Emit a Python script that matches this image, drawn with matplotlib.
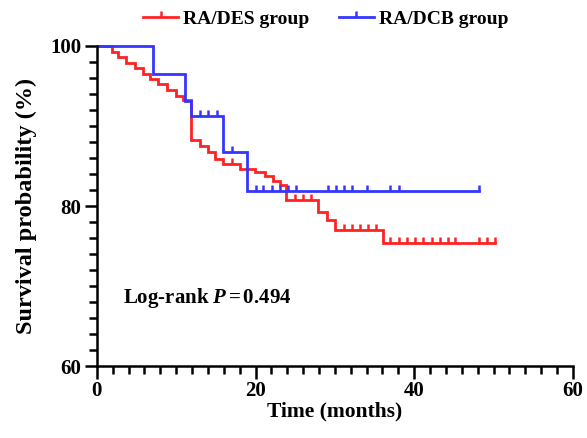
import numpy as np
import matplotlib
matplotlib.use("Agg")
import matplotlib.pyplot as plt
from matplotlib.lines import Line2D

plt.rcParams['font.family'] = ['Liberation Serif', 'DejaVu Serif']
plt.rcParams['font.weight'] = 'bold'
plt.rcParams['mathtext.fontset'] = 'custom'
plt.rcParams['mathtext.rm'] = 'Liberation Serif:bold'
plt.rcParams['mathtext.it'] = 'Liberation Serif:bold:italic'

# RA/DES group (step survival, value holds after each time)
des_t = [0, 1.85, 2.7, 3.7, 4.8, 5.8, 6.7, 7.7, 8.8, 10.0, 10.9, 11.9, 13.0, 14.0,
         14.9, 15.9, 18.0, 19.9, 21.2, 22.2, 23.1, 23.9, 27.9, 29.0, 30.0, 36.1, 50.2]
des_s = [100, 99.3, 98.6, 97.9, 97.2, 96.5, 95.9, 95.2, 94.5, 93.8, 93.2, 88.2, 87.5, 86.7,
         85.9, 85.2, 84.6, 84.2, 83.7, 83.1, 82.6, 80.8, 79.3, 78.3, 77.0, 75.4, 75.4]
des_cens = [17.0, 25.0, 26.0, 27.0, 31.1, 32.1, 33.2, 34.2, 35.2, 37.0, 38.1, 39.1,
            40.1, 41.1, 42.2, 43.2, 44.2, 45.1, 48.2, 49.2, 50.2]

# RA/DCB group
dcb_t = [0, 7.1, 11.1, 11.9, 15.9, 18.95, 48.2]
dcb_s = [100, 96.5, 93.1, 91.2, 86.7, 81.9, 81.9]
dcb_cens = [13.0, 14.0, 15.1, 17.0, 20.0, 21.0, 22.1, 23.1, 24.1, 25.1, 29.1, 30.1,
            31.1, 32.2, 34.1, 37.0, 38.1, 48.2]

red = '#FF2222'
blue = '#3535FF'
tick_mark = [(0, 0), (0, 1)]


def surv_at(t, s, x):
    idx = np.searchsorted(t, x, side='right') - 1
    return np.asarray(s)[idx]


fig = plt.figure(figsize=(5.87, 4.38), dpi=100)
ax = fig.add_axes([0.165, 0.164, 0.811, 0.731])

for t, s, cens, c in [(des_t, des_s, des_cens, red), (dcb_t, dcb_s, dcb_cens, blue)]:
    ax.step(t, s, where='post', color=c, lw=2.0, solid_joinstyle='miter', clip_on=False)
    ax.plot(cens, surv_at(t, s, cens), ls='none', marker=tick_mark, ms=8,
            mew=1.8, color=c, clip_on=False)

ax.set_xlim(0, 60)
ax.set_ylim(60, 100)
ax.set_xticks([0, 20, 40, 60])
ax.set_yticks([60, 80, 100])
ax.set_xticks(np.arange(0, 61, 2), minor=True)
ax.set_yticks(np.arange(60, 101, 2), minor=True)
for sp in ['top', 'right']:
    ax.spines[sp].set_visible(False)
for sp in ['left', 'bottom']:
    ax.spines[sp].set_linewidth(1.8)
ax.tick_params(which='major', length=9, width=1.8, labelsize=15, pad=2)
ax.tick_params(which='minor', length=5.5, width=1.8)

ax.set_xlabel('Time (months)', fontsize=15.5, fontweight='bold', labelpad=0)
ax.set_ylabel('Survival probability (%)', fontsize=17.5, fontweight='bold', labelpad=10)

ax.text(3.3, 68.5, r'Log-rank $P\,$=$\,$0.494', fontsize=15, fontweight='bold', va='center')

handles = [Line2D([], [], color=red, lw=2.0, marker=tick_mark, ms=8, mew=1.8),
           Line2D([], [], color=blue, lw=2.0, marker=tick_mark, ms=8, mew=1.8)]
fig.legend(handles, ['RA/DES group', 'RA/DCB group'], loc='center', ncol=2,
           bbox_to_anchor=(0.555, 0.957), frameon=False, fontsize=14,
           handlelength=1.8, handletextpad=0.25, columnspacing=1.5, numpoints=1)

fig.savefig('out.png', dpi=100)
